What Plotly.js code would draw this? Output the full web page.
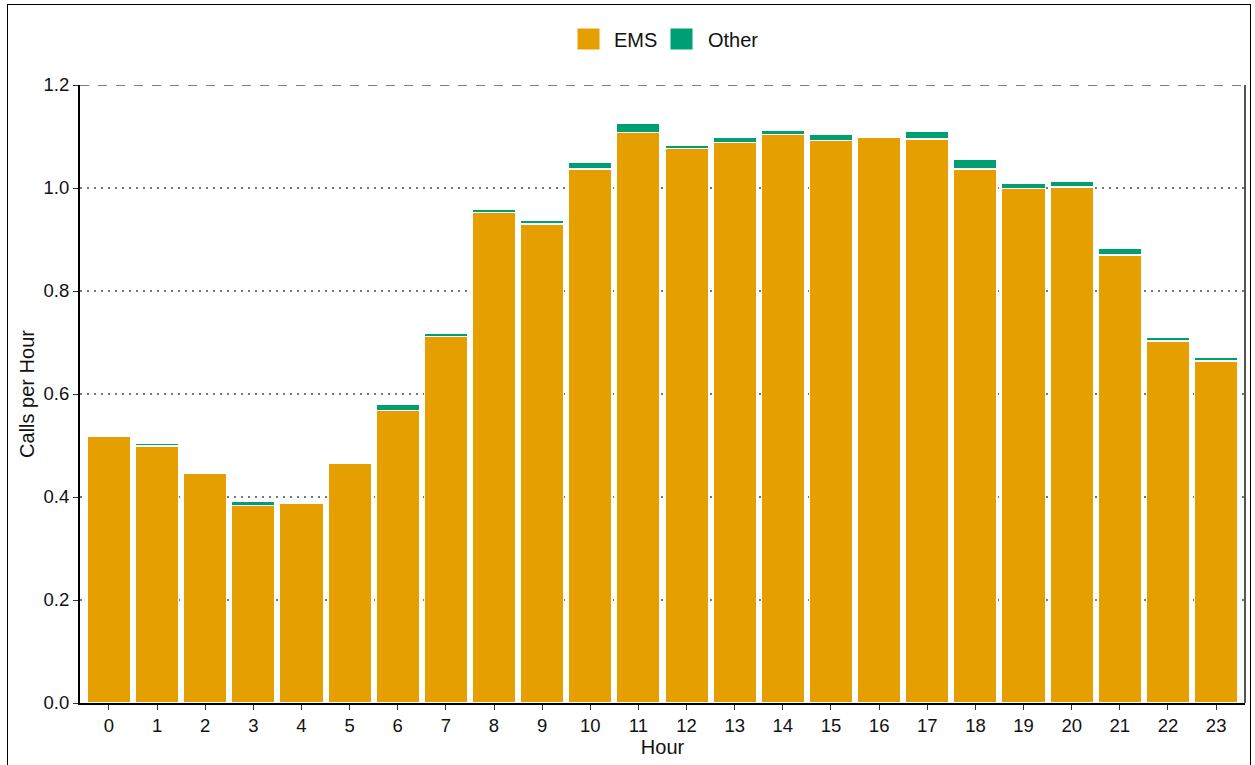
<!DOCTYPE html>
<html>
<head>
<meta charset="utf-8">
<script src="https://cdn.plot.ly/plotly-3.0.1.min.js"></script>
<style>
html,body{margin:0;padding:0;background:#fff;overflow:hidden;}
#chart{width:1255px;height:765px;}
#frame{position:absolute;left:7px;top:4px;width:1242px;height:770px;border:1.5px solid #000;pointer-events:none;}
</style>
</head>
<body>
<div id="chart"></div>
<div id="frame"></div>
<script>
const hours = ["0","1","2","3","4","5","6","7","8","9","10","11","12","13","14","15","16","17","18","19","20","21","22","23"];
const emsValues = [0.517,0.499,0.446,0.383,0.388,0.465,0.568,0.711,0.953,0.930,1.037,1.108,1.076,1.089,1.104,1.093,1.098,1.095,1.037,0.999,1.002,0.870,0.703,0.664];
const otherValues = [0,0.005,0,0.009,0,0,0.011,0.007,0.006,0.008,0.012,0.018,0.006,0.009,0.007,0.011,0,0.014,0.019,0.009,0.011,0.013,0.006,0.008];
const seriesNames = ["EMS","Other"];
const seriesColors = ["#E69F00","#009E73"];
const yTicks = [0,0.2,0.4,0.6,0.8,1.0,1.2];
const yTickText = ["0.0","0.2","0.4","0.6","0.8","1.0","1.2"];

const W = 1255, H = 765;
const M = {l:80, r:10, t:85, b:62};
const pw = W - M.l - M.r, ph = H - M.t - M.b;
const px2x = p => (p - M.l) / pw;
const py2y = p => (H - M.b - p) / ph;

const xIdx = hours.map((h,i)=>i);
const traces = [emsValues, otherValues].map((vals, k) => ({
  type:'bar', name:seriesNames[k], x:xIdx, y:vals, width:0.9, showlegend:false,
  marker:{color:seriesColors[k], line:{color:'#ffffff', width:1.2}}
}));

// manual legend (large square keys)
const legendKeys = [{x0:577, x1:600, tx:612}, {x0:670, x1:693, tx:706}];
const legShapes = legendKeys.map((k,i)=>({
  type:'rect', xref:'paper', yref:'paper',
  x0:px2x(k.x0), x1:px2x(k.x1), y0:py2y(50), y1:py2y(28),
  fillcolor:seriesColors[i], line:{color:'#ffffff', width:1}
}));
const legAnn = legendKeys.map((k,i)=>({
  xref:'paper', yref:'paper', x:px2x(k.tx), y:py2y(39.5), xanchor:'left', yanchor:'middle',
  text:seriesNames[i], showarrow:false, font:{size:20, color:'#111'}
}));

const layout = {
  width:W, height:H,
  barmode:'stack',
  paper_bgcolor:'#ffffff', plot_bgcolor:'#ffffff',
  margin:M,
  font:{family:'Liberation Sans, Arial, sans-serif', color:'#000', size:18},
  showlegend:false,
  xaxis:{range:[-0.6,23.6], tickmode:'array', tickvals:xIdx, ticktext:hours,
         showgrid:false, zeroline:false, showline:true, linecolor:'#000', linewidth:2,
         ticks:'outside', ticklen:5, tickcolor:'#333', tickwidth:1,
         tickfont:{size:18.5, color:'#111'},
         title:{text:'Hour', font:{size:20, color:'#111'}, standoff:3}},
  yaxis:{range:[0,1.2], tickmode:'array', tickvals:yTicks, ticktext:yTickText,
         showgrid:true, gridcolor:'#777', griddash:'1.5px,5.5px', gridwidth:1.3,
         zeroline:false, showline:true, linecolor:'#000', linewidth:2,
         ticks:'outside', ticklen:5, tickcolor:'#333', tickwidth:1,
         tickfont:{size:18.5, color:'#111'},
         title:{text:'Calls per Hour', font:{size:20, color:'#111'}, standoff:4}},
  shapes:[
    {type:'line', xref:'paper', yref:'y', x0:0, x1:1, y0:1.2, y1:1.2,
     line:{color:'#555', width:1.5, dash:'dash'}},
    {type:'line', xref:'paper', yref:'paper', x0:1, x1:1, y0:0, y1:1,
     line:{color:'#555', width:2}}
  ].concat(legShapes),
  annotations:legAnn
};
Plotly.newPlot('chart', traces, layout, {displayModeBar:false, staticPlot:true});
</script>
</body>
</html>
